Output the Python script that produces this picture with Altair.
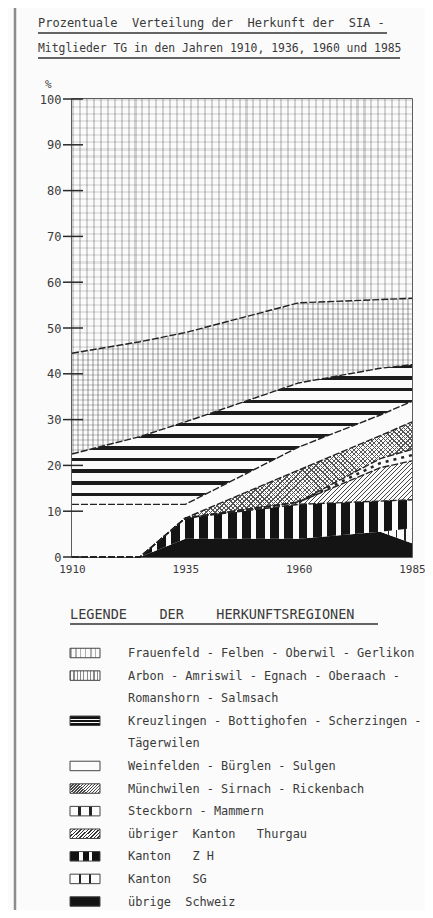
import altair as alt
import numpy as np
import pandas as pd

# ---------------- data (shares in %, stacked bottom -> top) ----------------
years = [1910, 1925, 1935, 1960, 1978, 1985]

uebrige_schweiz = [0.0, 0.0, 4.0, 4.0, 5.5, 3.0]
kanton_sg = [0.0, 0.0, 0.0, 0.0, 0.0, 3.3]
kanton_zh = [0.0, 0.0, 4.5, 7.5, 6.7, 6.2]
uebriger_tg = [0.0, 0.0, 0.0, 0.5, 7.3, 8.5]
steckborn = [0.0, 0.0, 0.0, 0.0, 2.0, 2.5]
muenchwilen = [0.0, 0.0, 0.0, 7.0, 5.0, 6.0]
weinfelden = [11.5, 11.5, 3.0, 5.0, 4.5, 4.5]
kreuzlingen = [11.0, 14.8, 18.0, 14.0, 10.2, 8.0]
arbon = [22.0, 20.7, 19.5, 17.5, 15.0, 14.5]
frauenfeld = [55.5, 53.0, 51.0, 44.5, 43.8, 43.5]

keys = ["schweiz", "sg", "zh", "tg", "steckborn", "muenchwilen",
        "weinfelden", "kreuzlingen", "arbon", "frauenfeld"]
shares = [uebrige_schweiz, kanton_sg, kanton_zh, uebriger_tg, steckborn,
          muenchwilen, weinfelden, kreuzlingen, arbon, frauenfeld]

x_ticks = [1910, 1935, 1960, 1985]
y_ticks = list(range(0, 101, 10))

title_1 = "Prozentuale\u00a0\u00a0Verteilung der\u00a0\u00a0Herkunft der\u00a0\u00a0SIA -"
title_2 = "Mitglieder TG in den Jahren 1910, 1936, 1960 und 1985"
legend_title = "LEGENDE\u00a0\u00a0\u00a0\u00a0DER\u00a0\u00a0\u00a0\u00a0HERKUNFTSREGIONEN"
legend_lines = [
    "Frauenfeld - Felben - Oberwil - Gerlikon",
    "Arbon - Amriswil - Egnach - Oberaach -",
    "Romanshorn - Salmsach",
    "Kreuzlingen - Bottighofen - Scherzingen -",
    "Tägerwilen",
    "Weinfelden - Bürglen - Sulgen",
    "Münchwilen - Sirnach - Rickenbach",
    "Steckborn - Mammern",
    "übriger\u00a0\u00a0Kanton\u00a0\u00a0\u00a0Thurgau",
    "Kanton\u00a0\u00a0\u00a0Z\u00a0H",
    "Kanton\u00a0\u00a0\u00a0SG",
    "übrige\u00a0\u00a0Schweiz",
]
legend_swatch_rows = {"frauenfeld": 0, "arbon": 1, "kreuzlingen": 3, "weinfelden": 5,
                      "muenchwilen": 6, "steckborn": 7, "tg": 8, "zh": 9, "sg": 10,
                      "schweiz": 11}

# ---------------- tables ----------------
rows = []
cum = np.zeros(len(years))
for k, s in zip(keys, shares):
    lo = cum.copy()
    hi = cum + np.array(s)
    for i, yr in enumerate(years):
        rows.append({"key": k, "year": yr, "lo": float(lo[i]), "hi": float(hi[i])})
    cum = hi
df = pd.DataFrame(rows)

W, H = 340, 458
PPY = H / 100.0
TXT = "#3a3a3a"
MONO = "DejaVu Sans Mono"
PAPER = "#fbfbfb"


def region_h(key):
    d = df[df.key == key]
    return (d.hi.max() - d.lo.min()) * PPY


def stops_from(seq):
    return [alt.GradientStop(color=c, offset=round(float(o), 5)) for o, c in seq]


def stripes(n, fg, bg, frac, x1=0, y1=0, x2=0, y2=1):
    n = max(1, int(round(n)))
    seq = []
    for k in range(n):
        a, b, c = k / n, (k + frac) / n, (k + 1) / n
        seq += [(a, fg), (b, fg), (b, bg), (c, bg)]
    return alt.LinearGradient(gradient="linear", stops=stops_from(seq),
                              x1=x1, y1=y1, x2=x2, y2=y2)


def hatch(wpx, hpx, period, fg, bg, frac, forward=True):
    b = hpx / wpx
    L = wpx + hpx ** 2 / wpx
    k = (wpx + hpx) / L
    n = (wpx + hpx) / period
    if forward:
        return stripes(n, fg, bg, frac, 0, 0, k, k * b)
    return stripes(n, fg, bg, frac, 1, 0, 1 - k, k * b)


def segs(seq, horizontal=True):
    out = []
    for a, b, c in seq:
        out += [(a, c), (b, c)]
    return alt.LinearGradient(gradient="linear", stops=stops_from(out),
                              x1=0, y1=0, x2=1 if horizontal else 0,
                              y2=0 if horizontal else 1)


CLEAR = "rgba(255,255,255,0)"

# fills for plot areas (list of stacked fills per region)
fills = {
    "schweiz": ["#141414"],
    "sg": [stripes(W / 8, "#222", PAPER, 0.2, 0, 0, 1, 0)],
    "zh": [stripes(W / 14, "#141414", PAPER, 0.62, 0, 0, 1, 0)],
    "tg": [hatch(W, region_h("tg"), 4.5, "#444", PAPER, 0.3)],
    "steckborn": [PAPER],
    "muenchwilen": [hatch(W, region_h("muenchwilen"), 4.5, "#555", PAPER, 0.28),
                    hatch(W, region_h("muenchwilen"), 4.5, "#555", CLEAR, 0.28, False)],
    "weinfelden": [PAPER],
    "kreuzlingen": [stripes(region_h("kreuzlingen") / 11.7, "#1c1c1c", PAPER, 0.3)],
    "arbon": [stripes(region_h("arbon") / 5, "#dadada", PAPER, 0.4),
              stripes(W / 5, "rgba(40,40,40,0.24)", CLEAR, 0.4, 0, 0, 1, 0)],
    "frauenfeld": [stripes(region_h("frauenfeld") / 7, "#e3e3e3", PAPER, 0.3),
                   stripes(W / 7, "rgba(40,40,40,0.2)", CLEAR, 0.3, 0, 0, 1, 0)],
}

# swatch fills (30 x 10 px boxes)
sw_fills = {
    "frauenfeld": [stripes(6, "#b0b0b0", PAPER, 0.3, 0, 0, 1, 0)],
    "arbon": [stripes(9, "#8a8a8a", PAPER, 0.35, 0, 0, 1, 0)],
    "kreuzlingen": [segs([(0, 0.3, "#111"), (0.3, 0.45, PAPER), (0.45, 0.6, "#111"),
                          (0.6, 0.75, PAPER), (0.75, 1, "#111")], horizontal=False)],
    "weinfelden": [PAPER],
    "muenchwilen": [hatch(30, 10, 3, "#444", PAPER, 0.45)],
    "steckborn": [segs([(0, 0.25, PAPER), (0.25, 0.38, "#222"), (0.38, 0.62, PAPER),
                        (0.62, 0.75, "#222"), (0.75, 1, PAPER)])],
    "tg": [hatch(30, 10, 3.5, "#333", PAPER, 0.4)],
    "zh": [segs([(0, 0.3, "#111"), (0.3, 0.42, PAPER), (0.42, 0.62, "#111"),
                 (0.62, 0.74, PAPER), (0.74, 1, "#111")])],
    "sg": [segs([(0, 0.3, PAPER), (0.3, 0.36, "#222"), (0.36, 0.64, PAPER),
                 (0.64, 0.7, "#222"), (0.7, 1, PAPER)])],
    "schweiz": ["#141414"],
}

# ---------------- scales / encodings ----------------
xscale = alt.Scale(domain=[1910, 1985], nice=False, zero=False)
yscale = alt.Scale(domain=[0, 100], nice=False, zero=True)
lscale = alt.Scale(domain=[0, 11], range=[554, 802.5], nice=False, zero=False)

X = alt.X("year:Q", scale=xscale,
          axis=alt.Axis(values=x_ticks, format="d", title=None, ticks=False, domain=False,
                        grid=False, labelPadding=6, labelFlush=False, labelFont=MONO,
                        labelFontSize=11, labelColor=TXT))

layers = []
for k in keys:
    for f in fills[k]:
        layers.append(
            alt.Chart(df).transform_filter(alt.datum.key == k)
            .mark_area(fill=f, strokeWidth=0, opacity=1)
            .encode(x=X, y=alt.Y("hi:Q", scale=yscale, axis=None), y2="lo:Q")
        )

# Steckborn dashes along the band
layers.append(
    alt.Chart(df).transform_filter((alt.datum.key == "steckborn") & (alt.datum.year >= 1960))
    .transform_calculate(mid="(datum.lo + datum.hi) / 2")
    .mark_line(color="#222", strokeWidth=2.5, strokeDash=[3, 5])
    .encode(x=X, y=alt.Y("mid:Q", scale=yscale, axis=None))
)

# boundary lines
for k in ["zh", "tg", "steckborn", "muenchwilen", "weinfelden", "kreuzlingen", "arbon"]:
    layers.append(
        alt.Chart(df).transform_filter(alt.datum.key == k)
        .mark_line(color="#222", strokeWidth=1.4, strokeDash=[7, 2])
        .encode(x=X, y=alt.Y("hi:Q", scale=yscale, axis=None))
    )

# y ticks crossing the axis + labels
layers.append(
    alt.Chart(pd.DataFrame({"v": y_ticks})).mark_rule(color="#2a2a2a", strokeWidth=1.5)
    .encode(y=alt.Y("v:Q", scale=yscale,
                    axis=alt.Axis(values=y_ticks, title=None, ticks=False, domain=False,
                                  grid=False, labelPadding=11, labelFont=MONO,
                                  labelFontSize=12, labelColor=TXT)),
            x=alt.value(-9), x2=alt.value(11))
)


def text(s, x, y, size, font=MONO, align="left"):
    return (alt.Chart(pd.DataFrame({"t": [s]}))
            .mark_text(align=align, baseline="middle", font=font, fontSize=size, color=TXT)
            .encode(text="t:N", x=alt.value(x), y=alt.value(y)))


def hline(x1, x2, y, color="#333", w=1.3):
    return (alt.Chart(pd.DataFrame({"a": [0]})).mark_rule(color=color, strokeWidth=w)
            .encode(x=alt.value(x1), x2=alt.value(x2), y=alt.value(y)))


# scan edge line on the left
layers.append(alt.Chart(pd.DataFrame({"a": [0]})).mark_rule(color="#8c8c8c", strokeWidth=2.5)
              .encode(x=alt.value(-57), y=alt.value(-91), y2=alt.value(811)))

# titles
layers.append(text(title_1, -34, -76, 12))
layers.append(hline(-34, 315, -66))
layers.append(text(title_2, -34, -50, 11.4))
layers.append(hline(-34, 328, -41))
layers.append(text("%", -27, -14, 11))

# legend heading
layers.append(text(legend_title, -2, 516, 13.5))
layers.append(hline(-2, 306, 525))

# legend text
leg_df = pd.DataFrame({"row": list(range(len(legend_lines))), "t": legend_lines})
layers.append(
    alt.Chart(leg_df).mark_text(align="left", baseline="middle", font=MONO, fontSize=11.9,
                                color=TXT)
    .encode(text="t:N", x=alt.value(56), y=alt.Y("row:Q", scale=lscale, axis=None))
)

# legend swatches
sw_df = pd.DataFrame({"key": list(legend_swatch_rows.keys()),
                      "row": list(legend_swatch_rows.values())})
sw_df["r1"] = sw_df["row"] - 0.21
sw_df["r2"] = sw_df["row"] + 0.21
for k in legend_swatch_rows:
    for i, f in enumerate(sw_fills[k]):
        layers.append(
            alt.Chart(sw_df).transform_filter(alt.datum.key == k)
            .mark_rect(fill=f, stroke="#444", strokeWidth=1)
            .encode(x=alt.value(-2), x2=alt.value(28),
                    y=alt.Y("r1:Q", scale=lscale, axis=None), y2="r2:Q")
        )

chart = (
    alt.layer(*layers)
    .resolve_scale(y="independent")
    .properties(width=W, height=H, background=PAPER,
                padding={"left": 64, "top": 91, "right": 13, "bottom": 353},
                autosize=alt.AutoSizeParams(type="none"))
    .configure_view(stroke="#2a2a2a", strokeWidth=1.5)
)

chart.save("out.html", embed_options={"renderer": "svg", "actions": False})
